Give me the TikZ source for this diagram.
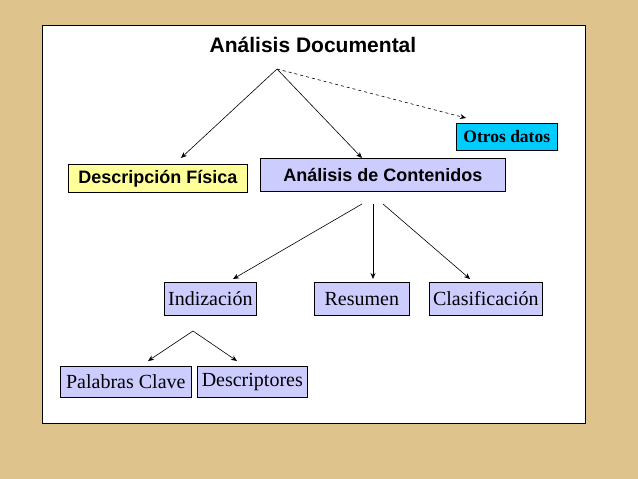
\documentclass[tikz,border=0pt]{standalone}
\usepackage{fontspec}
\setmainfont{Liberation Serif}
\newfontfamily\arial{Liberation Sans}
\usetikzlibrary{arrows.meta}
\definecolor{parch}{RGB}{222,196,140}
\definecolor{yel}{RGB}{255,255,153}
\definecolor{lav}{RGB}{204,204,255}
\definecolor{cyn}{RGB}{0,204,255}
\begin{document}
\begin{tikzpicture}[x=1pt,y=-1pt,
 box/.style={draw,inner sep=0pt,anchor=north west,line width=0.6pt},
 arr/.style={-{Stealth[length=6pt,width=5pt]},line width=0.6pt}]
\fill[parch] (0,0) rectangle (638,479);
\useasboundingbox (0,0) rectangle (638,479);
\draw[fill=white,line width=0.6pt] (42,25) rectangle (585,423);
\node (t) at (313,45) {\arial\bfseries\fontsize{21}{24}\selectfont Análisis Documental};
\coordinate (o) at (277,69);
\node[box,fill=yel,minimum width=179,minimum height=28] (df) at (68,164) {\arial\bfseries\fontsize{18}{20}\selectfont Descripción Física};
\node[box,fill=lav,minimum width=245,minimum height=33] (ac) at (260,158) {\arial\bfseries\fontsize{18}{20}\selectfont Análisis de Contenidos};
\node[box,fill=cyn,minimum width=101,minimum height=27] (od) at (456,123) {\bfseries\fontsize{17.5}{20}\selectfont Otros datos};
\coordinate (e1) at (181,158);
\coordinate (e2) at (362,158);
\coordinate (e3) at (466,118);
\draw[arr] (o) -- (e1);
\draw[arr] (o) -- (e2);
\draw[arr,dashed] (o) -- (e3);
\node[box,fill=lav,minimum width=92,minimum height=33] (in) at (164,282) {\fontsize{20}{24}\selectfont Indización};
\node[box,fill=lav,minimum width=95,minimum height=33] (re) at (314,282) {\fontsize{20}{24}\selectfont Resumen};
\node[box,fill=lav,minimum width=113,minimum height=33] (cl) at (429,282) {\fontsize{20}{24}\selectfont Clasificación};
\coordinate (a1) at (362,204); \coordinate (a2) at (373,204); \coordinate (a3) at (383,204);
\coordinate (b1) at (233,279); \coordinate (b2) at (373,279); \coordinate (b3) at (470,279);
\draw[arr] (a1) -- (b1);
\draw[arr] (a2) -- (b2);
\draw[arr] (a3) -- (b3);
\node[box,fill=lav,minimum width=131,minimum height=31] (pc) at (60,366) {\fontsize{20}{24}\selectfont Palabras Clave};
\node[box,fill=lav,minimum width=110,minimum height=31] (de) at (197,366) {\fontsize{20}{24}\selectfont Descriptores};
\coordinate (c0) at (193,331);
\coordinate (c1) at (148,361); \coordinate (c2) at (237,361);
\draw[arr] (c0) -- (c1);
\draw[arr] (c0) -- (c2);
\end{tikzpicture}
\end{document}
